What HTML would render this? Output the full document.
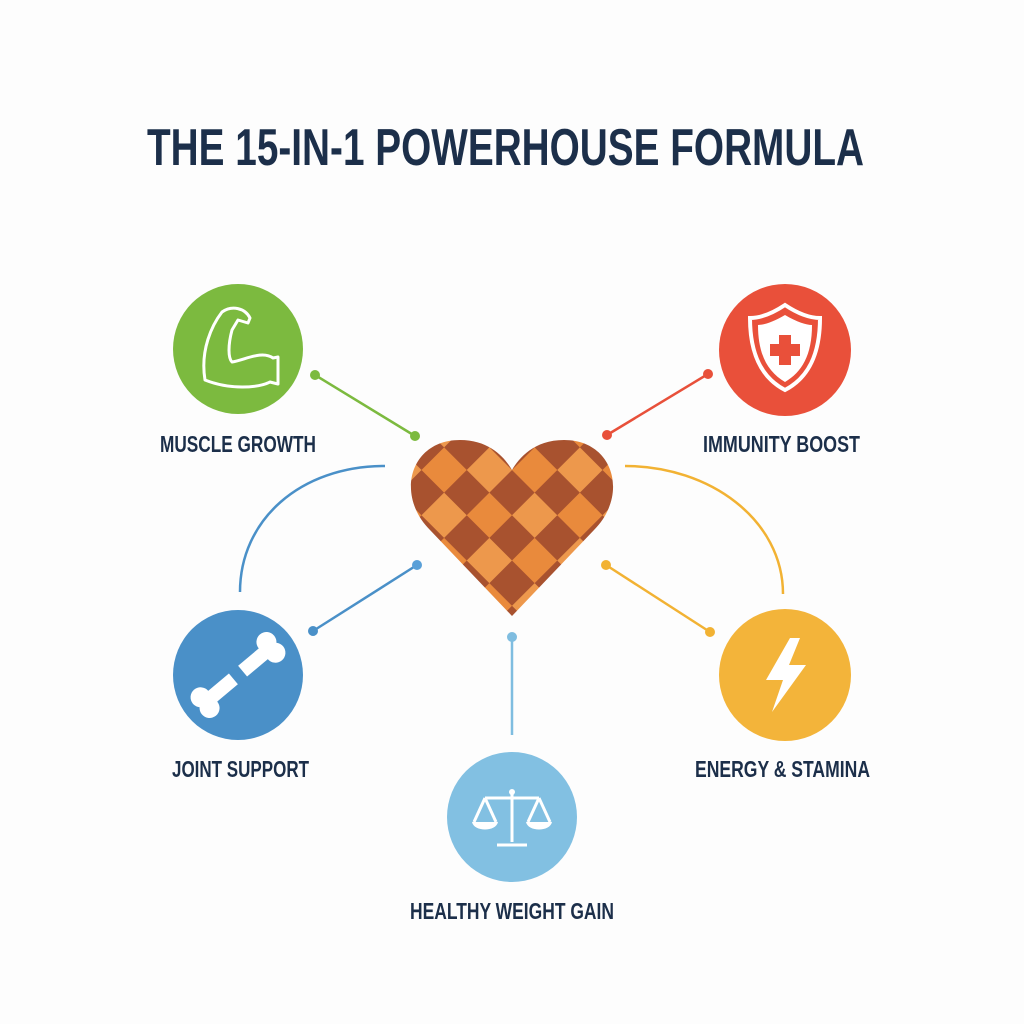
<!DOCTYPE html>
<html><head><style>body{margin:0;background:#fdfdfd}svg{display:block}</style></head><body>
<svg width="1024" height="1024" viewBox="0 0 1024 1024" xmlns="http://www.w3.org/2000/svg">
<defs>
<pattern id="chk" width="64" height="64" patternUnits="userSpaceOnUse" patternTransform="translate(512,470) rotate(45)">
<rect width="64" height="64" fill="#e98a3c"/>
<rect width="32" height="32" fill="#a8522f"/>
<rect x="32" y="32" width="32" height="32" fill="#a8522f"/>
<rect x="32" y="0" width="32" height="32" fill="#f0a257" opacity="0.6"/>
</pattern>
<clipPath id="hc"><path d="M512,616 L430,530 C395,495 410,440 460,440 C490,440 505,458 512,470 C519,458 534,440 564,440 C614,440 629,495 594,530 Z"/></clipPath>
</defs>
<rect width="1024" height="1024" fill="#fdfdfd"/>
<text x="147" y="165" textLength="717" lengthAdjust="spacingAndGlyphs" font-family="Liberation Sans, sans-serif" font-weight="bold" font-size="52" fill="#1c2f4a">THE 15-IN-1 POWERHOUSE FORMULA</text>

<g stroke-width="2.5" fill="none">
<line x1="315" y1="375" x2="415" y2="436" stroke="#7cba3f"/>
<line x1="708" y1="374" x2="607" y2="435" stroke="#e8503a"/>
<path d="M385,466 C300,466 240,520 240,592" stroke="#4a90c8"/>
<line x1="313" y1="631" x2="417" y2="565" stroke="#4a90c8"/>
<line x1="512" y1="637" x2="512" y2="735" stroke="#7fbde0"/>
<line x1="606" y1="565" x2="710" y2="632" stroke="#f2b233"/>
<path d="M625,466 C710,466 783,520 783,594" stroke="#f2b233"/>
</g>
<g>
<circle cx="315" cy="375" r="5" fill="#7cba3f"/><circle cx="415" cy="436" r="5" fill="#7cba3f"/>
<circle cx="708" cy="374" r="5" fill="#e8503a"/><circle cx="607" cy="435" r="5" fill="#e8503a"/>
<circle cx="313" cy="631" r="5" fill="#4a90c8"/><circle cx="417" cy="565" r="5" fill="#5aa0d8"/>
<circle cx="512" cy="637" r="5" fill="#7fbde0"/>
<circle cx="606" cy="565" r="5" fill="#f2b233"/><circle cx="710" cy="632" r="5" fill="#f2b233"/>
</g>

<rect x="400" y="430" width="224" height="190" fill="url(#chk)" clip-path="url(#hc)"/>

<circle cx="238" cy="349" r="65" fill="#7cba3f"/>
<circle cx="785" cy="350" r="66" fill="#e9503a"/>
<circle cx="238" cy="675" r="65" fill="#4a90c8"/>
<circle cx="785" cy="675" r="66" fill="#f3b43a"/>
<circle cx="512" cy="817" r="65" fill="#82c0e2"/>

<!-- arm -->
<path d="M205,380 C200,350 212,325 222,312 C232,305 245,308 250,318 L248,323 L238,320 L232,330 C228,345 228,358 232,362 C245,360 262,350 273,358 L278,357 L278,384 L270,382 C258,388 230,390 205,380 Z" fill="none" stroke="#fff" stroke-width="3" stroke-linejoin="round"/>
<!-- shield -->
<path d="M785,305 C800,315 812,318 820,318 C820,355 808,378 785,390 C762,378 750,355 750,318 C758,318 770,315 785,305 Z" fill="none" stroke="#fff" stroke-width="4"/>
<path d="M785,315 C797,322 806,325 812,325 C812,355 802,372 785,382 C768,372 758,355 758,325 C764,325 773,322 785,315 Z" fill="#fff"/>
<rect x="779" y="335" width="12" height="30" fill="#e9503a"/><rect x="770" y="344" width="30" height="12" fill="#e9503a"/>
<!-- bone -->
<g fill="#fff">
<g transform="rotate(-40 238 675)">
<rect x="195" y="668" width="86" height="14"/>
<circle cx="195" cy="668" r="10"/><circle cx="195" cy="682" r="10"/>
<circle cx="281" cy="668" r="10"/><circle cx="281" cy="682" r="10"/>
<rect x="232" y="662" width="12" height="26" fill="#4a90c8"/>
</g>
</g>
<!-- bolt -->
<polygon points="790,638 766,680 783,680 772,712 806,665 789,665 800,638" fill="#fff"/>
<!-- scale -->
<g stroke="#fff" stroke-width="3" fill="none">
<line x1="512" y1="790" x2="512" y2="842"/>
<line x1="485" y1="798" x2="539" y2="798"/>
<line x1="497" y1="845" x2="527" y2="845"/>
<path d="M485,798 L474,822 M485,798 L496,822 M539,798 L528,822 M539,798 L550,822"/>
</g>
<path d="M472,822 L498,822 C496,832 474,832 472,822 Z M526,822 L552,822 C550,832 528,832 526,822 Z" fill="#fff"/>
<circle cx="512" cy="792" r="3" fill="#fff"/>

<g font-family="Liberation Sans, sans-serif" font-weight="bold" font-size="23" fill="#1c2f4a">
<text x="160" y="452" textLength="156" lengthAdjust="spacingAndGlyphs">MUSCLE GROWTH</text>
<text x="703" y="452" textLength="157" lengthAdjust="spacingAndGlyphs">IMMUNITY BOOST</text>
<text x="172" y="777" textLength="137" lengthAdjust="spacingAndGlyphs">JOINT SUPPORT</text>
<text x="695" y="777" textLength="175" lengthAdjust="spacingAndGlyphs">ENERGY &amp; STAMINA</text>
<text x="410" y="919" textLength="204" lengthAdjust="spacingAndGlyphs">HEALTHY WEIGHT GAIN</text>
</g>
</svg>
</body></html>
